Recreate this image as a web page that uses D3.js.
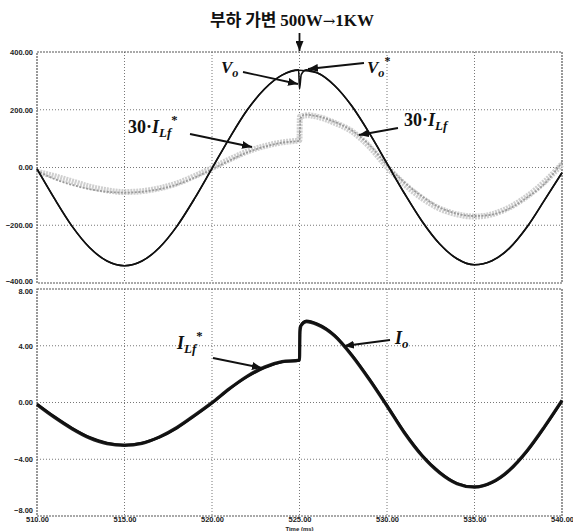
<!DOCTYPE html>
<html>
<head>
<meta charset="utf-8">
<script src="https://cdn.jsdelivr.net/npm/d3@7"></script>
<style>
  body { margin: 0; background: #fff; }
  svg { display: block; }
  .tick-label { font-family: "Liberation Sans", Arial, sans-serif; font-size: 7.5px; font-weight: bold; fill: #222; }
  .anno { font-family: "Liberation Serif", "DejaVu Serif", serif; font-weight: bold; fill: #111; }
</style>
</head>
<body>
<div id="chart"></div>
<script>
// ---- data ----
var timeTicks = [510, 515, 520, 525, 530, 535, 540];
var voltTicks = [400, 200, 0, -200, -400];
var currTicks = [8, 4, 0, -4, -8];

// output voltage Vo [ms, V] (dip at load step)
var vo = [[510,-5],[511,-108],[512,-203],[513,-277],[514,-324],[515,-340],[516,-324],[517,-277],[518,-203],[519,-108],[520,-3],[521,102],[522,198],[523,272],[524,320],[524.95,338],[525,272],[525.1,322],[525.4,338],[526,328],[527,284],[528,212],[529,118],[530,14],[531,-90],[532,-186],[533,-264],[534,-316],[535,-337],[536,-323],[537,-279],[538,-206],[539,-113],[540,-18]];
// reference voltage Vo*
var voRef = [[510,-5],[511,-108],[512,-203],[513,-277],[514,-324],[515,-340],[516,-324],[517,-277],[518,-203],[519,-108],[520,-3],[521,102],[522,198],[523,272],[524,320],[525,337],[526,328],[527,284],[528,212],[529,118],[530,14],[531,-90],[532,-186],[533,-264],[534,-316],[535,-337],[536,-323],[537,-279],[538,-206],[539,-113],[540,-18]];
// 30*ILf* and 30*ILf [ms, A*30]
var ilfRef30 = [[510,-14],[511,-30],[512,-48],[513,-66],[514,-79],[515,-85],[516,-82],[517,-72],[518,-55],[519,-30],[520,-2],[521,28],[522,55],[523,74],[524,87],[525,95],[525.02,176],[525.5,181],[526,176],[527,155],[528,125],[529,72],[530,2],[531,-58],[532,-106],[533,-142],[534,-162],[535,-170],[536,-162],[537,-138],[538,-100],[539,-50],[540,12]];
var ilf30 = [[510,-10],[511,-40],[512,-60],[513,-75],[514,-84],[515,-87],[516,-84],[517,-75],[518,-59],[519,-35],[520,-6],[521,24],[522,52],[523,72],[524,86],[525,93],[525.05,170],[525.3,183],[526,178],[527,158],[528,128],[529,78],[530,8],[531,-52],[532,-100],[533,-138],[534,-160],[535,-168],[536,-163],[537,-142],[538,-104],[539,-56],[540,18]];
// load current Io and ILf* [ms, A]
var io = [[510,-0.1],[511,-1.0],[512,-1.8],[513,-2.45],[514,-2.85],[515,-3.0],[516,-2.85],[517,-2.45],[518,-1.8],[519,-0.95],[520,-0.05],[521,0.95],[522,1.8],[523,2.45],[524,2.85],[525,2.97],[525.02,5.3],[525.4,5.75],[526,5.55],[527,4.75],[528,3.35],[529,1.65],[530,-0.2],[531,-2.1],[532,-3.7],[533,-4.9],[534,-5.7],[535,-5.95],[536,-5.65],[537,-4.8],[538,-3.45],[539,-1.75],[540,0.1]];
var ilfRef = [[510,-0.15],[511,-1.05],[512,-1.85],[513,-2.5],[514,-2.9],[515,-3.02],[516,-2.88],[517,-2.42],[518,-1.75],[519,-0.9],[520,0.0],[521,0.98],[522,1.85],[523,2.5],[524,2.88],[525,2.99],[525.03,5.0],[525.1,5.45],[525.4,5.7],[526,5.5],[527,4.7],[528,3.3],[529,1.6],[530,-0.25],[531,-2.15],[532,-3.75],[533,-4.95],[534,-5.72],[535,-5.97],[536,-5.62],[537,-4.75],[538,-3.4],[539,-1.7],[540,0.15]];

var W = 573, H = 531;
var svg = d3.select("#chart").append("svg").attr("width", W).attr("height", H);

var defs = svg.append("defs");
defs.append("marker").attr("id", "arr")
  .attr("markerUnits", "userSpaceOnUse")
  .attr("markerWidth", 10).attr("markerHeight", 8)
  .attr("refX", 10).attr("refY", 4).attr("orient", "auto")
  .append("path").attr("d", "M0,0 L10,4 L0,8 Z").attr("fill", "#111");

var x = d3.scaleLinear().domain([510, 540]).range([37, 562]);
var yTop = d3.scaleLinear().domain([-400, 400]).range([283, 52]);
var yBot = d3.scaleLinear().domain([-8, 8]).range([516, 289]);

function panel(y, ticks, shift) {
  var g = svg.append("g");
  var y0 = y.range()[0], y1 = y.range()[1];
  // grid
  g.selectAll(".vg").data(timeTicks.slice(1, -1)).enter().append("line")
    .attr("x1", d => x(d)).attr("x2", d => x(d)).attr("y1", y1).attr("y2", y0)
    .attr("stroke", "#777").attr("stroke-width", 1).attr("stroke-dasharray", "1,2");
  g.selectAll(".hg").data(ticks.slice(1, -1)).enter().append("line")
    .attr("x1", x(510)).attr("x2", x(540)).attr("y1", d => y(d)).attr("y2", d => y(d))
    .attr("stroke", "#777").attr("stroke-width", 1).attr("stroke-dasharray", "1,2");
  // frame
  g.append("rect").attr("x", x(510)).attr("y", y1)
    .attr("width", x(540) - x(510)).attr("height", y0 - y1)
    .attr("fill", "none").attr("stroke", "#555").attr("stroke-width", 1.2)
    .attr("stroke-dasharray", "2,1");
  // y axis labels
  var ax = g.append("g").attr("transform", "translate(" + x(510) + ",0)")
    .call(d3.axisLeft(y).tickValues(ticks).tickSize(0).tickPadding(4).tickFormat(d3.format(".2f")));
  ax.select(".domain").remove();
  ax.selectAll("text").attr("class", "tick-label").attr("font-size", null).attr("font-family", null)
    .attr("dy", (d, i) => (0.32 + (shift[i] || 0)) + "em");
  return g;
}

panel(yTop, voltTicks, [0, 0, 0, 0, -0.25]);
panel(yBot, currTicks, [0.3, 0, 0, 0, -0.75]);

// x axis labels
var xa = svg.append("g").attr("transform", "translate(0,515)")
  .call(d3.axisBottom(x).tickValues(timeTicks).tickSize(0).tickPadding(2).tickFormat(d3.format(".2f")));
xa.select(".domain").remove();
xa.selectAll("text").attr("class", "tick-label").attr("font-size", null).attr("font-family", null);
svg.append("text").attr("class", "tick-label").attr("x", x(525)).attr("y", 530.5)
  .attr("text-anchor", "middle").style("font-size", "6px").text("Time (ms)");

// ---- curves ----
var lineTop = d3.line().curve(d3.curveMonotoneX).x(d => x(d[0])).y(d => yTop(d[1]));
var lineBot = d3.line().curve(d3.curveMonotoneX).x(d => x(d[0])).y(d => yBot(d[1]));

svg.append("path").datum(ilfRef30).attr("d", lineTop)
  .attr("fill", "none").attr("stroke", "#cfcfcf").attr("stroke-width", 6)
  .attr("stroke-dasharray", "2,1");
svg.append("path").datum(ilf30).attr("d", lineTop)
  .attr("fill", "none").attr("stroke", "#9a9a9a").attr("stroke-width", 1.8)
  .attr("stroke-dasharray", "2,1.5");
svg.append("path").datum(voRef).attr("d", lineTop)
  .attr("fill", "none").attr("stroke", "#111").attr("stroke-width", 1.6);
svg.append("path").datum(vo).attr("d", lineTop)
  .attr("fill", "none").attr("stroke", "#111").attr("stroke-width", 1.6);

svg.append("path").datum(ilfRef).attr("d", lineBot)
  .attr("fill", "none").attr("stroke", "#222").attr("stroke-width", 3.2);
svg.append("path").datum(io).attr("d", lineBot)
  .attr("fill", "none").attr("stroke", "#111").attr("stroke-width", 2.6);

// ---- title & annotations ----
var title = svg.append("text").attr("x", 210).attr("y", 26).attr("class", "anno");
title.append("tspan").attr("font-family", "'Noto Sans CJK KR', sans-serif").attr("font-size", 17).text("부하 가변 ");
title.append("tspan").attr("font-size", 17).text("500W");
title.append("tspan").attr("font-family", "'DejaVu Serif', serif").attr("font-weight", "normal").attr("font-size", 15).text("→");
title.append("tspan").attr("font-size", 17).text("1KW");

function arrow(x1, y1, x2, y2) {
  svg.append("line").attr("x1", x1).attr("y1", y1).attr("x2", x2).attr("y2", y2)
    .attr("stroke", "#111").attr("stroke-width", 1.8).attr("marker-end", "url(#arr)");
}
arrow(x(525), 33, x(525), 51);

function label(px, py, size, pre, main, sub, star) {
  var t = svg.append("text").attr("class", "anno").attr("x", px).attr("y", py).attr("font-size", size);
  if (pre) t.append("tspan").text(pre);
  t.append("tspan").attr("font-style", "italic").text(main);
  t.append("tspan").attr("font-style", "italic").attr("font-size", size * 0.72).attr("dy", size * 0.22).text(sub);
  if (star) t.append("tspan").attr("font-size", size * 0.7).attr("dy", -size * 0.72).text("*");
}

label(221, 73, 17, "", "V", "o", false);
arrow(243, 72, 298, 84);
label(367, 73, 17, "", "V", "o", true);
arrow(364, 63, 308, 69);
label(128, 133, 18, "30·", "I", "Lf", true);
arrow(190, 134, 252, 147);
label(404, 126, 18, "30·", "I", "Lf", false);
arrow(398, 128, 359, 135);
label(177, 349, 18, "", "I", "Lf", true);
arrow(213, 358, 262, 368);
label(395, 344, 18, "", "I", "o", false);
arrow(390, 340, 344, 346);
</script>
</body>
</html>
